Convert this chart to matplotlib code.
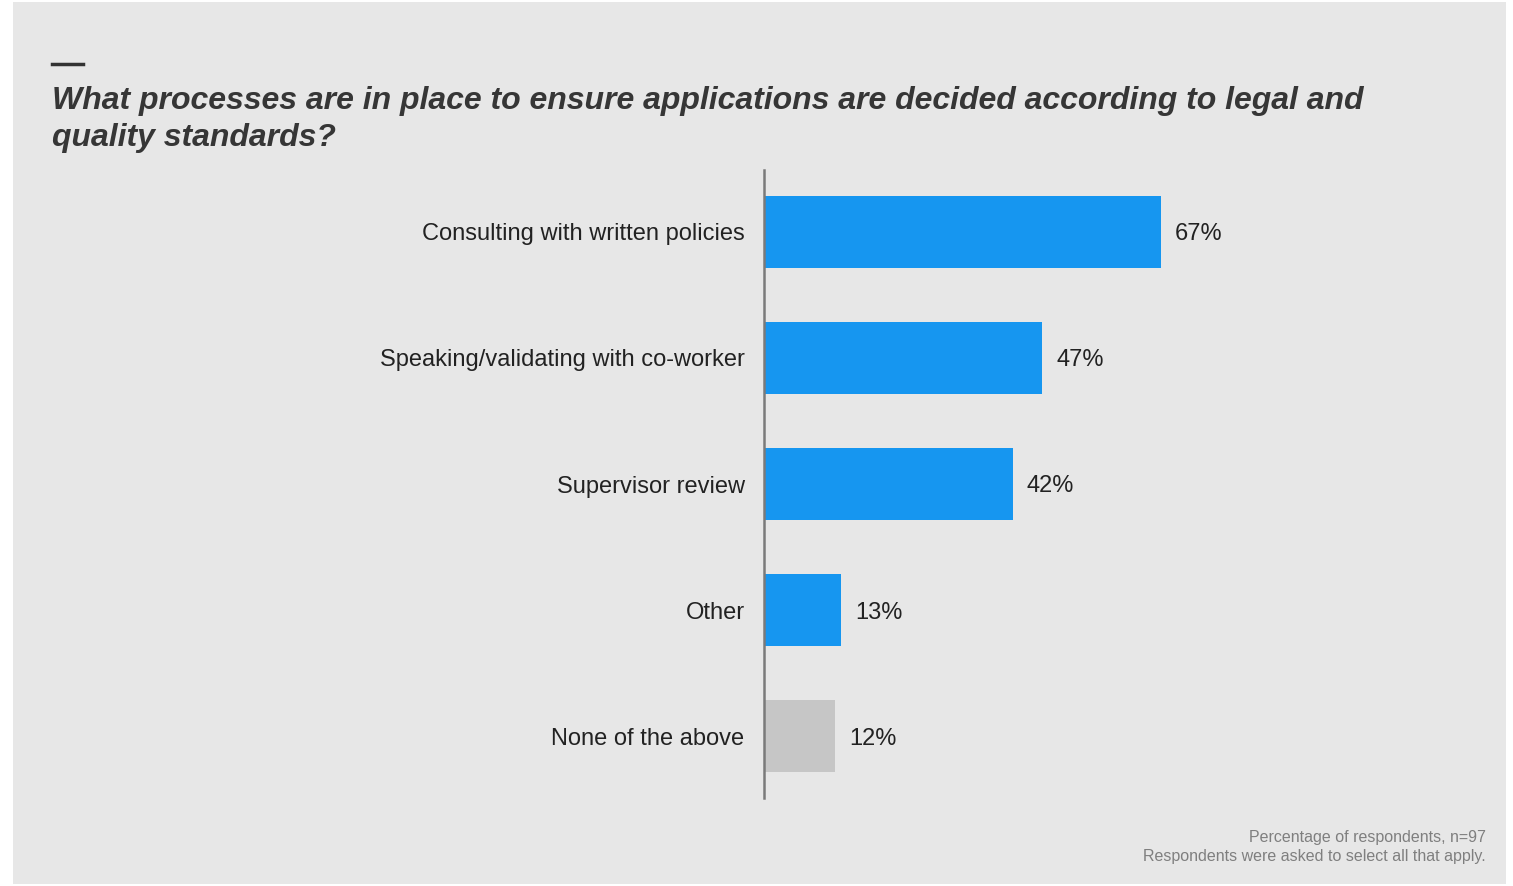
import matplotlib.pyplot as plt
from matplotlib.patches import Rectangle

# survey results
categories = [
    "Consulting with written policies",
    "Speaking/validating with co-worker",
    "Supervisor review",
    "Other",
    "None of the above",
]
values = [67, 47, 42, 13, 12]
bar_colors = ["#1696f0", "#1696f0", "#1696f0", "#1696f0", "#c6c6c6"]

title = ("What processes are in place to ensure applications are decided according to legal and\n"
         "quality standards?")
footnote = "Percentage of respondents, n=97\nRespondents were asked to select all that apply."

plt.rcParams["font.family"] = ["Liberation Sans", "DejaVu Sans"]

W, H = 1513, 886
fig = plt.figure(figsize=(W / 100, H / 100), dpi=100)
fig.patch.set_facecolor("white")

# grey panel behind everything
fig.patches.append(Rectangle((13 / W, 2 / H), (1506 - 13) / W, (884 - 2) / H,
                             transform=fig.transFigure, facecolor="#e7e7e7",
                             edgecolor="none", zorder=-10))

# short accent dash above the title
fig.add_artist(plt.Line2D([52 / W, 83 / W], [1 - 64 / H, 1 - 64 / H],
                          color="#333333", linewidth=2.5, transform=fig.transFigure))

fig.text(52 / W, 1 - 86 / H, title, ha="left", va="top", fontsize=23,
         fontweight="bold", fontstyle="italic", color="#363636", linespacing=1.3)

# axes: left edge at the spine, 100% spans 592 px
ax = fig.add_axes([764 / W, 1 - 798 / H, 592 / W, (798 - 170) / H])
ax.set_facecolor("none")
ax.set_zorder(5)
ypos = list(range(len(categories)))
ax.barh(ypos, values, height=0.565, color=bar_colors, zorder=2)
ax.set_xlim(0, 100)
ax.set_ylim(4.492, -0.492)

for y, v in zip(ypos, values):
    ax.text(v + 2.4, y, f"{v}%", va="center_baseline", ha="left", fontsize=17,
            color="#222222")

ax.set_yticks(ypos)
ax.set_yticklabels(categories, fontsize=17, color="#222222")
ax.tick_params(axis="y", length=0, pad=14)
ax.set_xticks([])
for s in ["top", "right", "bottom"]:
    ax.spines[s].set_visible(False)
ax.spines["left"].set_color("#7a7a7a")
ax.spines["left"].set_linewidth(1.8)
ax.spines["left"].set_zorder(3)

fig.text(1486 / W, 1 - 830 / H, footnote, ha="right", va="top", fontsize=11.5,
         color="#7f7f7f", linespacing=1.3)

fig.savefig("out.png", dpi=100, facecolor=fig.get_facecolor())
